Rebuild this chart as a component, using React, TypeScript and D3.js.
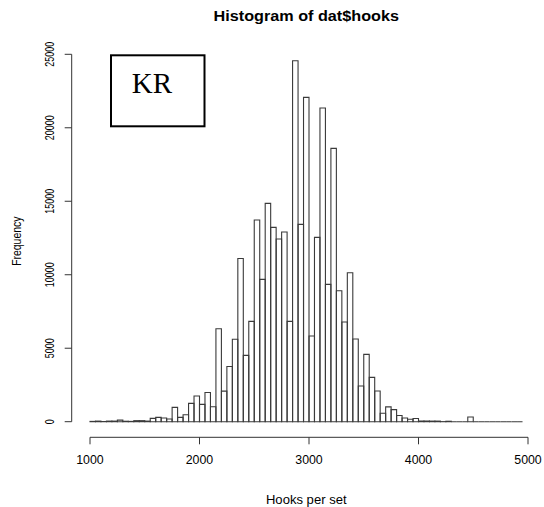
import React from "react";
import * as d3 from "d3";

const BIN_WIDTH = 50;
const binStarts: number[] = d3.range(1000, 4950, BIN_WIDTH);
const counts: number[] = [
  20, 40, 10, 40, 40, 110, 30, 20, 70, 70,
  40, 227, 295, 250, 180, 975, 295, 476, 1247, 1746,
  1179, 1990, 1021, 6320, 2080, 3755, 5615, 11100, 4515, 6827,
  13721, 9684, 14855, 13222, 12429, 12905, 6827, 24562, 13427, 22068,
  5829, 12542, 21342, 9344, 18598, 8913, 6781, 10138, 5625, 2427,
  4581, 3016, 2087, 580, 1010, 820, 420, 250, 170, 215,
  45, 45, 40, 40, 5, 30, 0, 0, 0, 318,
  0, 0, 0, 0, 0, 0, 0, 0, 0,
];
const xTicks = [1000, 2000, 3000, 4000, 5000];
const yTicks = [0, 5000, 10000, 15000, 20000, 25000];
const title = "Histogram of dat$hooks";
const xLabel = "Hooks per set";
const yLabel = "Frequency";
const legendLabels = ["KR"];

const SANS = "'Liberation Sans', Arial, Helvetica, sans-serif";
const SERIF = "'Liberation Serif', 'Times New Roman', serif";

export default function App() {
  const W = 544;
  const H = 507;
  const x = d3.scaleLinear().domain([1000, 5000]).range([90, 528]);
  const y = d3.scaleLinear().domain([0, 25000]).range([421.7, 54.3]);
  const plotCenterX = x(2975);
  const plotCenterY = y(12281);
  const axisY = 437.3;
  const axisX = 71.7;

  const barPath = (s: number, c: number) => {
    const p = d3.path();
    const x0 = x(s);
    const x1 = x(s + BIN_WIDTH);
    p.moveTo(x0, y(0));
    p.lineTo(x0, y(c));
    p.lineTo(x1, y(c));
    p.lineTo(x1, y(0));
    p.closePath();
    return p.toString();
  };

  return (
    <svg
      width={W}
      height={H}
      style={{ position: "absolute", left: 0, top: 0, background: "#fff" }}
    >
      <rect x={0} y={0} width={W} height={H} fill="#fff" />
      {/* bars */}
      <g fill="none" stroke="#3a3a3a" strokeWidth={1.1}>
        {binStarts.map((s, i) => (
          <path key={s} d={barPath(s, counts[i])} />
        ))}
      </g>
      {/* x axis */}
      <g stroke="#333" strokeWidth={1}>
        <line x1={x(xTicks[0])} x2={x(xTicks[xTicks.length - 1])} y1={axisY} y2={axisY} />
        {xTicks.map((t) => (
          <line key={t} x1={x(t)} x2={x(t)} y1={axisY} y2={axisY + 7} />
        ))}
      </g>
      <g fontFamily={SANS} fontSize={12} fill="#000" textAnchor="middle">
        {xTicks.map((t) => (
          <text key={t} x={x(t)} y={464} transform={`translate(${x(t)},0) scale(1.03,1) translate(${-x(t)},0)`}>
            {t}
          </text>
        ))}
      </g>
      {/* y axis */}
      <g stroke="#333" strokeWidth={1}>
        <line x1={axisX} x2={axisX} y1={y(yTicks[0])} y2={y(yTicks[yTicks.length - 1])} />
        {yTicks.map((t) => (
          <line key={t} x1={axisX} x2={axisX - 7} y1={y(t)} y2={y(t)} />
        ))}
      </g>
      <g fontFamily={SANS} fontSize={12} fill="#000" textAnchor="middle">
        {yTicks.map((t) => (
          <text key={t} transform={`translate(53.8,${y(t)}) rotate(-90) scale(0.75,1)`}>
            {t}
          </text>
        ))}
      </g>
      {/* axis titles */}
      <text
        transform={`translate(20.7,${plotCenterY}) rotate(-90) scale(0.87,1)`}
        fontFamily={SANS}
        fontSize={12}
        textAnchor="middle"
        fill="#000"
      >
        {yLabel}
      </text>
      <text
        transform={`translate(${plotCenterX},504) scale(1.09,1)`}
        fontFamily={SANS}
        fontSize={12}
        textAnchor="middle"
        fill="#000"
      >
        {xLabel}
      </text>
      <text
        transform={`translate(${plotCenterX},20.7) scale(1.08,1)`}
        fontFamily={SANS}
        fontSize={15}
        fontWeight="bold"
        textAnchor="middle"
        fill="#000"
      >
        {title}
      </text>
      {/* legend */}
      <rect x={111} y={55.3} width={93.5} height={71} fill="#fff" stroke="#000" strokeWidth={2} />
      {legendLabels.map((l, i) => (
        <text key={l} x={131.7} y={93.3 + i * 30} fontFamily={SERIF} fontSize={29} fill="#000">
          {l}
        </text>
      ))}
    </svg>
  );
}
